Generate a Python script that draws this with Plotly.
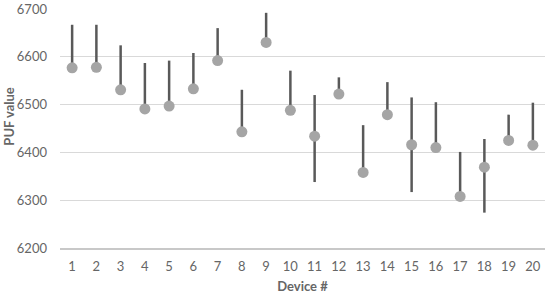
import plotly.graph_objects as go

devices = [str(i) for i in range(1, 21)]
puf_mean = [6577, 6578, 6531, 6491, 6497, 6533, 6592, 6443, 6630, 6488,
            6434, 6522, 6358, 6479, 6416, 6410, 6308, 6369, 6425, 6415]
puf_max = [6667, 6667, 6624, 6587, 6592, 6608, 6660, 6531, 6692, 6571,
           6520, 6557, 6457, 6547, 6515, 6505, 6401, 6428, 6479, 6504]
puf_min = [6577, 6578, 6531, 6491, 6497, 6533, 6592, 6443, 6630, 6488,
           6338, 6522, 6358, 6479, 6317, 6410, 6308, 6274, 6425, 6415]
y_ticks = [6200, 6300, 6400, 6500, 6600, 6700]

err_plus = [hi - m for hi, m in zip(puf_max, puf_mean)]
err_minus = [m - lo for lo, m in zip(puf_min, puf_mean)]

fig = go.Figure(go.Scatter(
    x=devices, y=puf_mean, mode="markers",
    marker=dict(size=11, color="#a5a5a5"),
    error_y=dict(type="data", symmetric=False, array=err_plus, arrayminus=err_minus,
                 width=0, thickness=2.5, color="#595959"),
))

fig.update_layout(
    width=550, height=295,
    margin=dict(l=60, r=5, t=9, b=47),
    paper_bgcolor="white", plot_bgcolor="white",
    font=dict(family="Lato, Carlito, sans-serif", color="#666666", size=13),
    showlegend=False,
    xaxis=dict(
        type="category", range=[-0.5, 19.5], automargin=False,
        showgrid=False, showline=True, linecolor="#c8c8c8", linewidth=2,
        ticks="", tickfont=dict(size=13), ticklabelstandoff=5,
        title=dict(text="<b>Device #</b>", font=dict(size=13), standoff=9),
    ),
    yaxis=dict(
        range=[6200, 6700], tickvals=y_ticks, automargin=False,
        showgrid=True, gridcolor="#d9d9d9", gridwidth=1, zeroline=False,
        ticks="", tickfont=dict(size=13), ticklabelstandoff=12,
    ),
)
# y title sits a bit above the plot centre, as in the original
fig.add_annotation(text="<b>PUF value</b>", textangle=-90, showarrow=False,
                   xref="paper", yref="paper", x=-0.107, y=0.55,
                   xanchor="center", yanchor="middle", font=dict(size=13))

# drop the browser's default 8px body margin so the figure sits at 0,0
fig.write_html("out.html", config={"displayModeBar": False},
               post_script="document.body.style.margin='0';")
